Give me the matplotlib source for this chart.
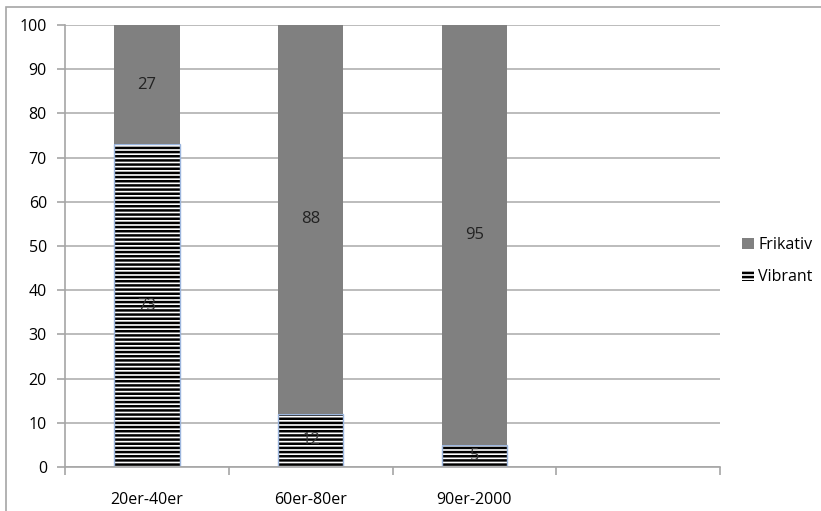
import matplotlib
matplotlib.use('Agg')
import matplotlib.pyplot as plt
from matplotlib.patches import Rectangle

categories = ['20er-40er', '60er-80er', '90er-2000', '']
vibrant = [73, 12, 5, 0]
frikativ = [27, 88, 95, 0]

plt.rcParams['font.family'] = ['Open Sans', 'DejaVu Sans']
plt.rcParams['hatch.linewidth'] = 1.8

fig = plt.figure(figsize=(8.21, 5.11), dpi=100)
ax = fig.add_axes([65 / 821, 44 / 511, 655 / 821, 442 / 511])

# outer chart frame (right and bottom edges fall outside the image)
fig.patches.append(Rectangle((6 / 821, -0.1), 1.1, (511 - 7) / 511 + 0.1,
                             transform=fig.transFigure, fill=False,
                             ec='#a6a6a6', lw=1.2))

x = list(range(len(categories)))
w = 0.4
n = 3  # bars that hold data
# hatch takes the edge colour, so the blue outline is a second, unfilled bar
ax.bar(x[:n], vibrant[:n], w, color='white', hatch='----',
       edgecolor='black', linewidth=0, label='Vibrant', zorder=2)
ax.bar(x[:n], vibrant[:n], w, fill=False, edgecolor='#9cb6de',
       linewidth=1.0, zorder=2)
ax.bar(x[:n], frikativ[:n], w, bottom=vibrant[:n], color='#808080',
       edgecolor='none', label='Frikativ', zorder=2)

for i in range(n):
    ax.text(x[i], vibrant[i] / 2, str(vibrant[i]), ha='center', va='center',
            fontsize=12, color='#333333', zorder=3)
    ax.text(x[i], vibrant[i] + frikativ[i] / 2, str(frikativ[i]), ha='center',
            va='center', fontsize=12, color='#222222', zorder=3)

ax.set_xlim(-0.5, len(categories) - 0.5)
ax.set_ylim(0, 100)
ax.set_yticks(range(0, 101, 10))
ax.yaxis.grid(True, color='#b0b0b0', lw=1.2, zorder=0)
ax.set_axisbelow(True)
ax.set_xticks(x)
ax.set_xticklabels(categories, fontsize=11.5)
ax.set_xticks([i - 0.5 for i in range(len(categories) + 1)], minor=True)
ax.tick_params(axis='x', which='major', length=0, pad=18)
ax.tick_params(axis='x', which='minor', length=6, color='#a6a6a6', width=1.2)
ax.tick_params(axis='y', length=6, color='#a6a6a6', width=1.2, labelsize=11.5, pad=7)

for s in ['top', 'right']:
    ax.spines[s].set_visible(False)
for s in ['left', 'bottom']:
    ax.spines[s].set_color('#a6a6a6')
    ax.spines[s].set_linewidth(1.2)

h, l = ax.get_legend_handles_labels()
leg = fig.legend(h[::-1], l[::-1], loc='center left',
                 bbox_to_anchor=(728 / 821, 1 - 261 / 511), frameon=False,
                 fontsize=11.5, handlelength=0.7, handleheight=0.7,
                 handletextpad=0.3, labelspacing=1.0)

fig.savefig('out.png', dpi=100)
